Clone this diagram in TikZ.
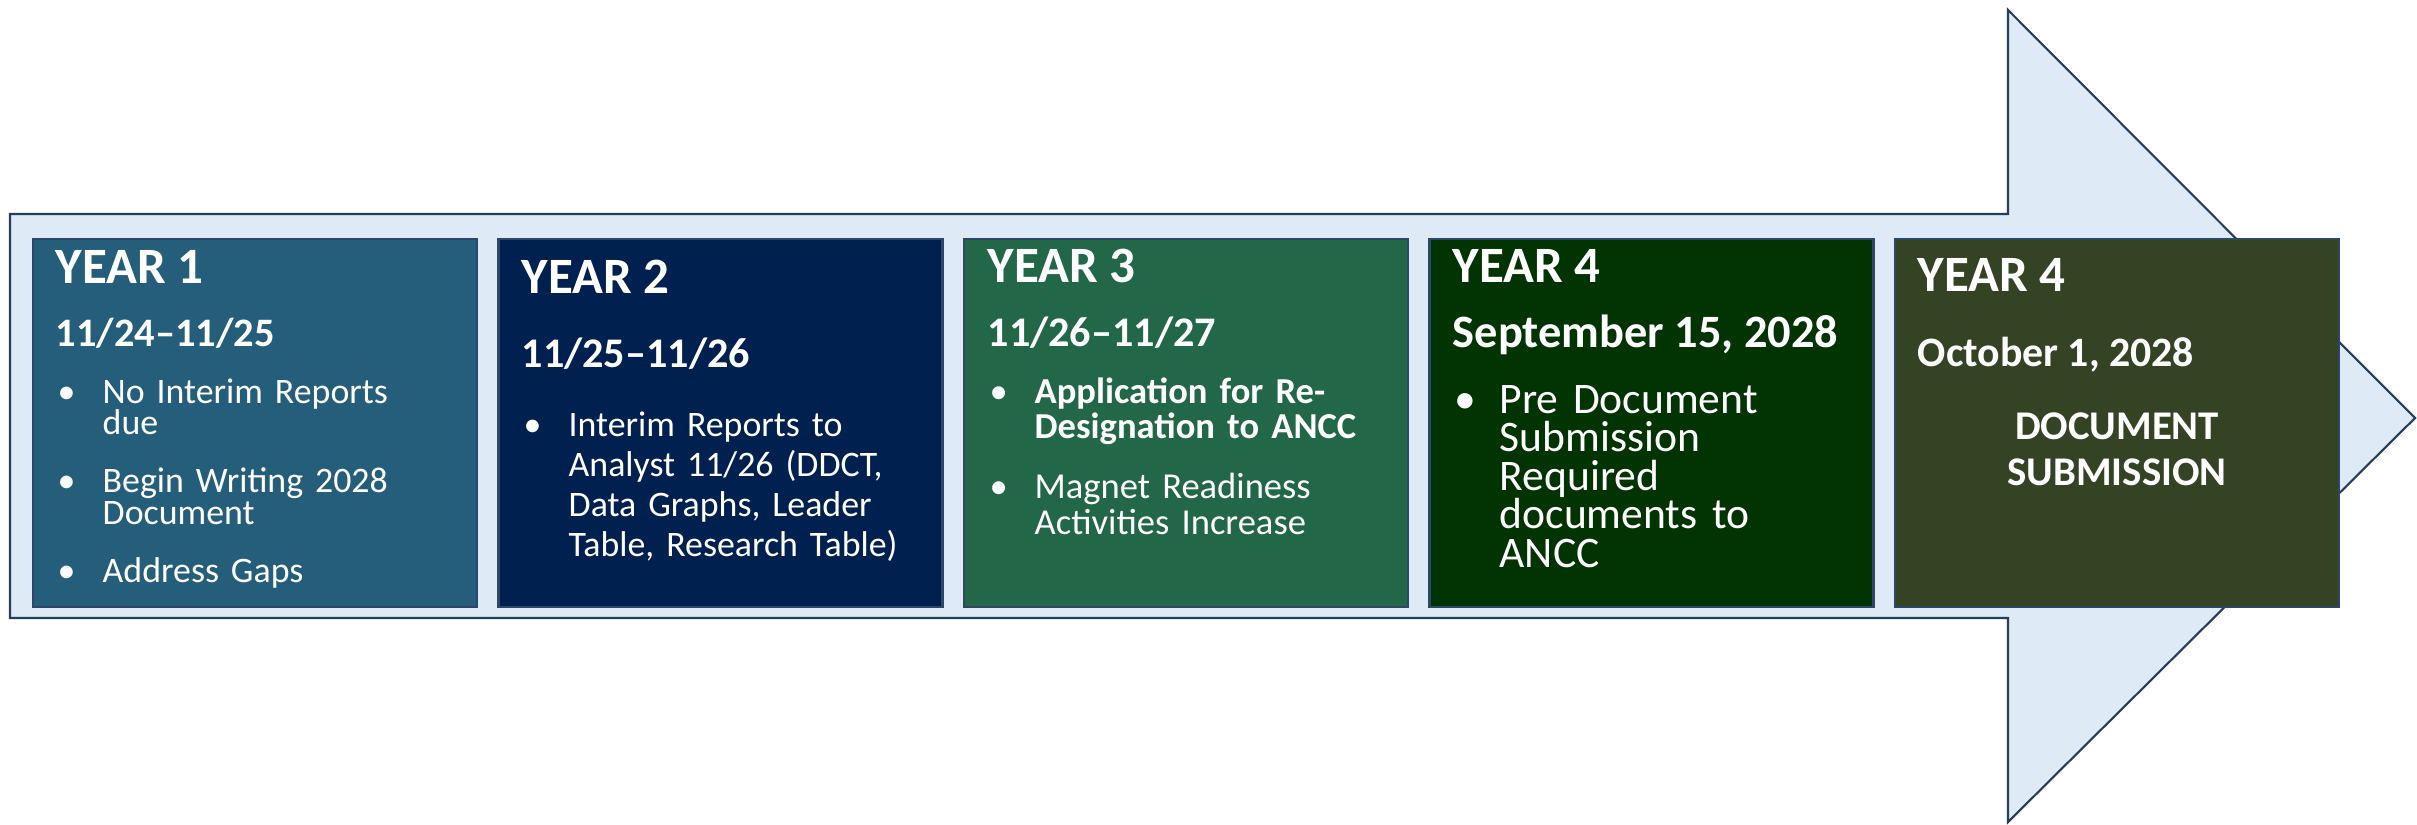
\documentclass[tikz,border=0pt]{standalone}
\usepackage{fontspec}
\setmainfont{Carlito}
\usetikzlibrary{positioning}

\definecolor{arrowfill}{RGB}{222,234,246}
\definecolor{arrowline}{RGB}{36,62,92}
\definecolor{edgeblue}{RGB}{44,72,102}
\definecolor{yearone}{RGB}{36,94,122}
\definecolor{yeartwo}{RGB}{0,32,80}
\definecolor{yearthree}{RGB}{34,103,72}
\definecolor{yearfour}{RGB}{2,51,2}
\definecolor{yearfive}{RGB}{53,67,37}

\newcommand{\bulitem}[1]{\noindent\hangindent=4.7mm\hangafter=1\makebox[4.7mm][l]{\hspace{0.2mm}\textbullet}#1\par}

\begin{document}
\begin{tikzpicture}[x=0.1mm, y=-0.1mm,
		yearbox/.style={rectangle, draw=edgeblue, line width=0.6pt, minimum width=44.4mm, minimum height=36.8mm, inner sep=0pt},
		yeartitle/.style={anchor=base west, inner sep=0pt, text=white, font=\fontsize{14.5pt}{17pt}\selectfont\bfseries},
		yeardate/.style={anchor=base west, inner sep=0pt, text=white, font=\fontsize{11.5pt}{14pt}\selectfont\bfseries},
		yearlist/.style={anchor=base west, inner sep=0pt, text=white, align=left, text width=42mm},
		]
		\useasboundingbox (0,0) rectangle (2417,824);

		%Arrow
		\draw[fill=arrowfill, draw=arrowline, line width=0.6pt] (10,214) -- (2008,214) -- (2008,10) -- (2415,418) -- (2008,822) -- (2008,618) -- (10,618) -- cycle;

		%Boxes
		\node[yearbox, fill=yearone]    (box1) at (255,423)    {};
		\node[yearbox, fill=yeartwo]    (box2) at (720.5,423)  {};
		\node[yearbox, fill=yearthree]  (box3) at (1186,423)   {};
		\node[yearbox, fill=yearfour]   (box4) at (1651.5,423) {};
		\node[yearbox, fill=yearfive]   (box5) at (2117,423)   {};

		%Year 1
		\node[yeartitle] (year1) at (55,283)  {YEAR 1};
		\node[yeardate]  (date1) at (55,346)  {11/24–11/25};
		\node[yearlist, font=\fontsize{10.2pt}{9.1pt}\selectfont] (list1) at (55,403)
			{\bulitem{No Interim Reports\newline due}\vspace{7.4pt}\bulitem{Begin Writing 2028\newline Document}\vspace{7.4pt}\bulitem{Address Gaps}};

		%Year 2
		\node[yeartitle] (year2) at (521,293) {YEAR 2};
		\node[yeardate, font=\fontsize{12pt}{14pt}\selectfont\bfseries] (date2) at (521,367) {11/25–11/26};
		\node[yearlist, font=\fontsize{10.2pt}{11.4pt}\selectfont] (list2) at (521,436)
			{\bulitem{Interim Reports to\newline Analyst 11/26 (DDCT,\newline Data Graphs, Leader\newline Table, Research Table)}};

		%Year 3
		\node[yeartitle] (year3) at (987,282) {YEAR 3};
		\node[yeardate, font=\fontsize{12pt}{14pt}\selectfont\bfseries] (date3) at (987,346) {11/26–11/27};
		\node[yearlist, font=\fontsize{10.4pt}{10.2pt}\selectfont] (list3) at (987,403)
			{\bulitem{{\bfseries Application for Re-\newline Designation to ANCC}}\vspace{6.8pt}\bulitem{Magnet Readiness\newline Activities Increase}};

		%Year 4
		\node[yeartitle] (year4) at (1452,282) {YEAR 4};
		\node[yeardate, font=\fontsize{13.2pt}{15pt}\selectfont\bfseries] (date4) at (1452,347) {September 15, 2028};
		\node[yearlist, font=\fontsize{12.4pt}{11pt}\selectfont] (list4) at (1452,413)
			{\bulitem{Pre Document\newline Submission\newline Required\newline documents to\newline ANCC}};

		%Year 4, submission
		\node[yeartitle] (year5) at (1917,291) {YEAR 4};
		\node[yeardate, font=\fontsize{11.9pt}{14pt}\selectfont\bfseries] (date5) at (1917,366) {October 1, 2028};
		\node[anchor=base, inner sep=0pt, text=white, align=center, text width=40mm, font=\fontsize{11.6pt}{13.1pt}\selectfont\bfseries] (submit) at (2117,439) {DOCUMENT\\SUBMISSION};
\end{tikzpicture}
\end{document}
